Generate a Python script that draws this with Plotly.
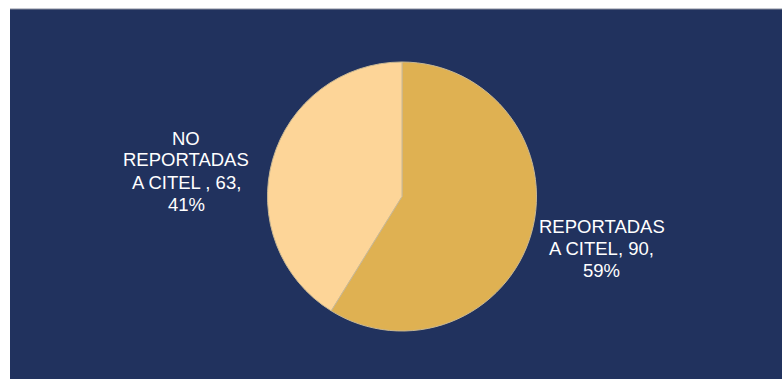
import plotly.graph_objects as go

labels = ["REPORTADAS A CITEL", "NO REPORTADAS A CITEL "]
values = [90, 63]
colors = ["#DFB152", "#FDD598"]

total = sum(values)
pcts = [round(v / total * 100) for v in values]

W, H = 782, 379
NAVY = "#21325E"

fig = go.Figure(go.Pie(
    labels=labels,
    values=values,
    sort=False,
    direction="clockwise",
    rotation=0,
    marker=dict(colors=colors, line=dict(color="#C9B893", width=1)),
    textinfo="none",
    hoverinfo="label+value+percent",
    showlegend=False,
    domain=dict(x=[(402 - 135) / W, (402 + 135) / W], y=[1 - 331 / H, 1 - 62 / H]),
))

# label lines built from the data (wrapped as in the reference)
label_blocks = [
    ["REPORTADAS", f"A CITEL, {values[0]},", f"{pcts[0]}%"],
    ["NO", "REPORTADAS", f"A CITEL , {values[1]},", f"{pcts[1]}%"],
]
centers = [(601.5, 248), (186, 171)]  # pixel centres of each label block
LINE = 22
for lines, (cx, cy) in zip(label_blocks, centers):
    n = len(lines)
    for i, ln in enumerate(lines):
        py = cy + (i - (n - 1) / 2) * LINE
        fig.add_annotation(x=cx / W, y=1 - py / H, xref="paper", yref="paper", text=ln,
                           showarrow=False, xanchor="center", yanchor="middle", align="center",
                           font=dict(family="Liberation Sans, Arial, sans-serif", size=18.5,
                                     color="white"))

fig.add_shape(type="rect", xref="paper", yref="paper", x0=10 / W, x1=1.01, y0=-0.01, y1=1 - 9 / H,
              fillcolor=NAVY, line=dict(width=0), layer="below")
fig.add_shape(type="line", xref="paper", yref="paper", x0=10 / W, x1=1.0, y0=1 - 9 / H, y1=1 - 9 / H,
              line=dict(color="#8A8F9E", width=1), layer="below")

fig.update_layout(width=W, height=H, margin=dict(l=0, r=0, t=0, b=0),
                  paper_bgcolor="white", plot_bgcolor="white")
fig.write_html("out.html")
